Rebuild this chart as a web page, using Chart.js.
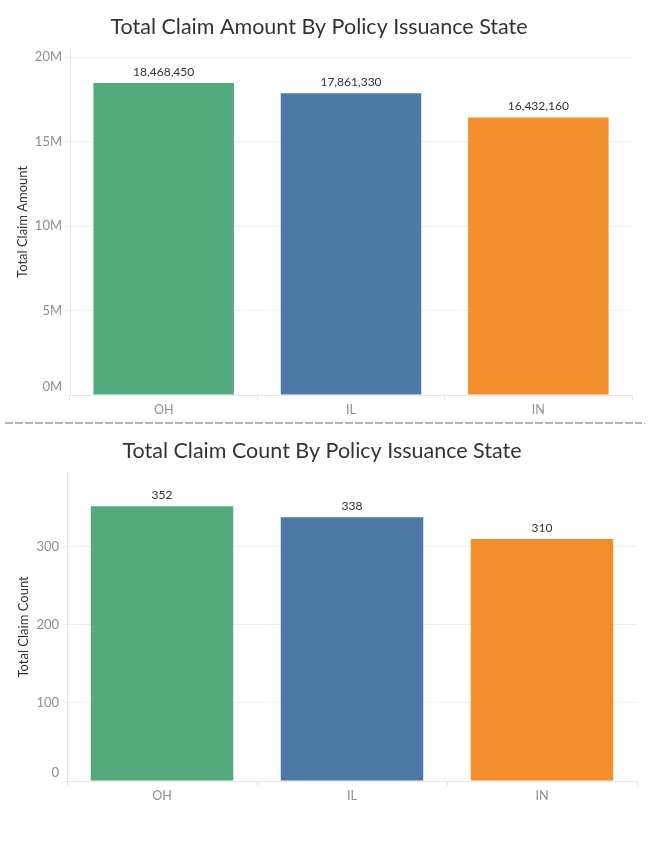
<!DOCTYPE html>
<html>
<head>
<meta charset="utf-8">
<script src="https://cdn.jsdelivr.net/npm/chart.js@4.4.1/dist/chart.umd.min.js"></script>
<style>
  html, body { margin: 0; padding: 0; background: #fff; }
  body { width: 649px; height: 859px; position: relative; overflow: hidden; }
  .wrap { position: absolute; left: 0; width: 649px; }
  #w1 { top: 0; height: 420px; }
  #w2 { top: 428px; height: 380px; }
  #sep { position: absolute; left: 5px; top: 422px; width: 637px; height: 2px;
         background: repeating-linear-gradient(to right, #b3b3b3 0 8px, transparent 8px 10px); }
  #dot { position: absolute; left: 644px; top: 423px; width: 1px; height: 1px; background: #999; }
</style>
</head>
<body>
<div class="wrap" id="w1"><canvas id="c1" width="649" height="420"></canvas></div>
<div id="sep"></div><div id="dot"></div>
<div class="wrap" id="w2"><canvas id="c2" width="649" height="380"></canvas></div>
<script>
// ---- data ----
const states = ['OH', 'IL', 'IN'];
const claimAmounts = [18468450, 17861330, 16432160];
const claimCounts = [352, 338, 310];
const barColors = ['#55a97f', '#4e79a7', '#f28e2b'];
const amountTicks = [0, 5000000, 10000000, 15000000, 20000000];
const amountTickLabels = ['0M', '5M', '10M', '15M', '20M'];
const countTicks = [0, 100, 200, 300];
const countTickLabels = ['0', '100', '200', '300'];

const FONT = 'Lato, "Noto Sans", sans-serif';

const valueLabels = {
  id: 'valueLabels',
  afterDatasetsDraw(chart) {
    const ctx = chart.ctx;
    const meta = chart.getDatasetMeta(0);
    ctx.save();
    ctx.font = '12px ' + FONT;
    ctx.fillStyle = '#333333';
    ctx.textAlign = 'center';
    ctx.textBaseline = 'middle';
    meta.data.forEach((bar, i) => {
      const v = chart.data.datasets[0].data[i];
      ctx.fillText(v.toLocaleString('en-US'), bar.x, bar.y - 11);
    });
    ctx.restore();
  }
};

// bottom tick label ("0") sits just above the axis line like the original
const zeroLabel = {
  id: 'zeroLabel',
  afterDraw(chart, args, opts) {
    const y = chart.scales.y;
    const ctx = chart.ctx;
    ctx.save();
    ctx.font = '13px ' + FONT;
    ctx.fillStyle = '#8f8f8f';
    ctx.textAlign = 'right';
    ctx.textBaseline = 'middle';
    ctx.fillText(opts.text, y.right - 8, y.getPixelForValue(0) - 8);
    ctx.restore();
  }
};

function makeChart(id, values, title, yTitle, tickVals, tickLabels, max, dims) {
  return new Chart(document.getElementById(id), {
    type: 'bar',
    data: {
      labels: states,
      datasets: [{
        data: values,
        backgroundColor: barColors,
        borderWidth: 0,
        categoryPercentage: 1,
        barPercentage: 0.75
      }]
    },
    plugins: [valueLabels, zeroLabel],
    options: {
      responsive: false,
      animation: false,
      layout: { padding: { left: dims.left, right: dims.right, top: 0, bottom: 0 } },
      plugins: {
        legend: { display: false },
        tooltip: { enabled: false },
        zeroLabel: { text: tickLabels[0] },
        title: {
          display: true,
          text: title,
          color: '#333333',
          font: { family: FONT, size: 21.5, weight: 'normal', lineHeight: 1.2 },
          padding: { top: dims.titleTop, bottom: dims.titleBottom }
        }
      },
      scales: {
        x: {
          offset: true,
          afterFit(s) { s.height = dims.xh; },
          grid: { offset: true, drawOnChartArea: false, drawTicks: true, tickLength: 5, color: '#e6e6e6' },
          border: { display: true, color: '#e6e6e6' },
          ticks: { color: '#8f8f8f', font: { family: FONT, size: 12.5 }, padding: 2 }
        },
        y: {
          min: 0,
          max: max,
          afterFit(s) { s.width = dims.yw; },
          afterBuildTicks(s) { s.ticks = tickVals.map(v => ({ value: v })); },
          grid: { color: '#eeeeee', tickLength: 5, drawTicks: true },
          border: { display: true, color: '#e6e6e6' },
          ticks: {
            color: '#8f8f8f',
            font: { family: FONT, size: 13 },
            padding: 3,
            callback: (v) => {
              const i = tickVals.indexOf(v);
              return i <= 0 ? '' : tickLabels[i];
            }
          },
          title: {
            display: true,
            text: yTitle,
            color: '#333333',
            font: { family: FONT, size: 13 },
            padding: { top: dims.ytp, bottom: 0 }
          }
        }
      }
    }
  });
}

makeChart('c1', claimAmounts, 'Total Claim Amount By Policy Issuance State', 'Total Claim Amount',
  amountTicks, amountTickLabels, 20500000,
  { left: 6, right: 17, titleTop: 14, titleBottom: 9, xh: 25, yw: 64, ytp: 9 });

makeChart('c2', claimCounts, 'Total Claim Count By Policy Issuance State', 'Total Claim Count',
  countTicks, countTickLabels, 395,
  { left: 7, right: 12, titleTop: 10, titleBottom: 9, xh: 27, yw: 60, ytp: 9 });
</script>
</body>
</html>
